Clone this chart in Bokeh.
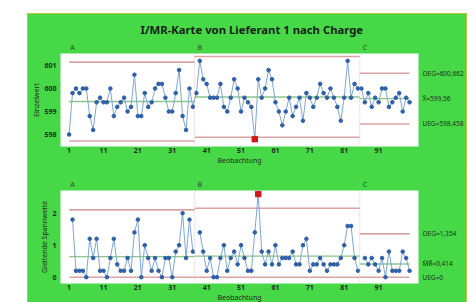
import numpy as np
from bokeh.plotting import figure
from bokeh.models import ColumnDataSource, Span, FixedTicker, Range1d, LinearAxis
from bokeh.layouts import column
from bokeh.embed import file_html
from bokeh.resources import INLINE

# ---------------- data ----------------
title_text = "I/MR-Karte von Lieferant 1 nach Charge"
stage_names = ["A", "B", "C"]
stage_last_obs = [37, 85, 100]

values_a = [598.0, 599.8, 600.0, 599.8, 600.0, 600.0, 598.8, 598.2, 599.4, 599.6,
            599.4, 599.4, 600.0, 598.8, 599.2, 599.4, 599.6, 599.0, 599.2, 600.6,
            598.8, 598.8, 599.8, 599.2, 599.4, 600.0, 600.2, 600.2, 599.6, 599.0,
            599.0, 599.8, 600.8, 598.8, 598.2, 600.0, 599.2]
values_b = [599.8, 601.2, 600.4, 600.2, 599.6, 599.6, 599.6, 600.2, 599.2, 599.0,
            599.6, 600.4, 600.0, 599.0, 599.6, 599.4, 599.2, 597.8, 600.4, 599.6,
            600.0, 600.8, 600.4, 599.4, 599.0, 598.4, 599.0, 599.6, 598.8, 599.2,
            599.6, 598.6, 599.8, 599.6, 599.2, 599.6, 600.2, 599.8, 599.6, 600.0,
            599.6, 599.2, 598.6, 599.6, 601.2, 599.6, 600.2, 600.0]
values_c = [600.0, 599.4, 599.8, 599.2, 599.6, 599.4, 600.0, 600.0, 599.2, 599.4,
            599.6, 599.8, 599.0, 599.6, 599.4]

i_flagged_obs = [55]
mr_flagged_obs = [56]

x_ticks = [1, 11, 21, 31, 41, 51, 61, 71, 81, 91]
i_ticks = [598, 599, 600, 601]
mr_ticks = [0, 1, 2]

i_right_labels = ["OEG=600,662", "X\u0304=599,56", "UEG=598,458"]
i_right_values = [600.662, 599.56, 598.458]
mr_right_labels = ["OEG=1,354", "M\u0304R\u0304=0,414", "UEG=0"]
mr_right_values = [1.354, 0.414, 0.0]

x_label = "Beobachtung"
i_axis_label = "Einzelwert"
mr_axis_label = "Gleitende Spannweite"

# ---------------- derived ----------------
stage_values = [values_a, values_b, values_c]
individual = np.array(values_a + values_b + values_c)
obs = np.arange(1, len(individual) + 1)

mr = np.full(len(individual), np.nan)
starts = []
s = 1
for vals, last in zip(stage_values, stage_last_obs):
    starts.append(s)
    for k in range(s, last):  # index k -> obs k+1
        mr[k] = abs(individual[k] - individual[k - 1])
    s = last + 1

stats = []
for st, last in zip(starts, stage_last_obs):
    seg = individual[st - 1:last]
    mrs = mr[st:last]
    mbar = seg.mean()
    rbar = np.nanmean(mrs)
    stats.append(dict(mean=mbar, ucl=mbar + 2.66 * rbar, lcl=mbar - 2.66 * rbar,
                      rbar=rbar, rucl=3.267 * rbar))

# ---------------- style ----------------
GREEN = "#46d846"
FONT = "Noto Sans"
TXT = "#1f2f1f"
LIM = "#dba4a4"
CEN = "#8cc48c"
PT = "#2f5fa8"
LN = "#7ea6dc"
RED = "#d01818"
XR = (-1.5, 102.6)
FW, FH = 358, 93


def seg_x(i):
    x0 = 1 if i == 0 else starts[i] - 0.5
    x1 = stage_last_obs[i] + 0.5 if i < len(starts) - 1 else stage_last_obs[i]
    return x0, x1


def style_axis(ax, size="7px", bold=True, color=TXT):
    ax.axis_line_color = None
    ax.major_tick_line_color = None
    ax.major_tick_in = 0
    ax.major_tick_out = 0
    ax.minor_tick_line_color = None
    ax.major_label_text_font = FONT
    ax.major_label_text_font_size = size
    ax.major_label_text_font_style = "bold" if bold else "normal"
    ax.major_label_text_color = color
    ax.axis_label_text_font = FONT
    ax.axis_label_text_font_size = "7px"
    ax.axis_label_text_font_style = "normal"
    ax.axis_label_text_color = TXT


def base_fig(yr, top, bottom, ticks, ylabel, right_labels, right_values, title=None):
    kw = {}
    if title is not None:
        kw["title"] = title
    p = figure(frame_width=FW, frame_height=FH, output_backend="svg",
               toolbar_location=None,
               x_range=Range1d(*XR), y_range=Range1d(*yr),
               min_border_left=32, min_border_right=48,
               min_border_top=top, min_border_bottom=bottom, **kw)
    p.border_fill_color = GREEN
    p.background_fill_color = "white"
    p.outline_line_color = None
    p.grid.visible = False
    style_axis(p.xaxis[0])
    style_axis(p.yaxis[0])
    p.xaxis.ticker = FixedTicker(ticks=x_ticks)
    p.xaxis.major_label_standoff = 1
    p.xaxis.axis_label = x_label
    p.xaxis.axis_label_standoff = 0
    p.yaxis.ticker = FixedTicker(ticks=ticks)
    p.yaxis.axis_label = ylabel
    p.yaxis.major_label_standoff = 4
    p.yaxis.axis_label_standoff = 0

    # stage names above the frame
    stage_pos = [st + 1.0 for st in starts]
    top_ax = LinearAxis(ticker=FixedTicker(ticks=stage_pos),
                        major_label_overrides={pos: n for pos, n in zip(stage_pos, stage_names)})
    style_axis(top_ax, bold=False, color="#2a4a2a")
    top_ax.major_label_standoff = 2
    p.add_layout(top_ax, "above")

    # limit values at the right of the frame
    r_ax = LinearAxis(ticker=FixedTicker(ticks=right_values),
                      major_label_overrides={v: t for v, t in zip(right_values, right_labels)})
    style_axis(r_ax, size="6.5px", bold=False)
    r_ax.major_label_standoff = 4
    p.add_layout(r_ax, "right")

    for b in (stage_last_obs[0] + 0.5, stage_last_obs[1] + 0.5):
        p.add_layout(Span(location=b, dimension="height", line_color="#e0b4b4",
                          line_dash="1 2", line_width=1))
    return p


# ---------------- I chart ----------------
YR1 = (597.48, 601.52)
p1 = base_fig(YR1, 39, 26, i_ticks, i_axis_label, i_right_labels, i_right_values,
              title=title_text)
p1.title.align = "left"
p1.title.offset = 80
p1.title.text_font = FONT
p1.title.text_font_size = "11.3px"
p1.title.text_font_style = "bold"
p1.title.text_color = "#141e14"
p1.title.standoff = 6
for i, st in enumerate(stats):
    x0, x1 = seg_x(i)
    p1.line([x0, x1], [st["ucl"], st["ucl"]], line_color=LIM, line_width=1.6)
    p1.line([x0, x1], [st["lcl"], st["lcl"]], line_color=LIM, line_width=1.6)
    p1.line([x0, x1], [st["mean"], st["mean"]], line_color=CEN, line_width=1.4)
src_i = ColumnDataSource(dict(x=obs, y=individual))
p1.line("x", "y", source=src_i, line_color=LN, line_width=1)
p1.scatter("x", "y", source=src_i, size=3.6, color=PT)
fi = np.array(i_flagged_obs)
p1.scatter(fi, individual[fi - 1], marker="square", size=5.5, color=RED)

# ---------------- MR chart ----------------
YR2 = (-0.197, 2.71)
p2 = base_fig(YR2, 18, 19, mr_ticks, mr_axis_label, mr_right_labels, mr_right_values)
for i, st in enumerate(stats):
    x0, x1 = seg_x(i)
    p2.line([x0, x1], [st["rucl"], st["rucl"]], line_color=LIM, line_width=1.6)
    p2.line([x0, x1], [0, 0], line_color=LIM, line_width=1.6)
    p2.line([x0, x1], [st["rbar"], st["rbar"]], line_color=CEN, line_width=1.4)
src_m = ColumnDataSource(dict(x=obs, y=mr))
p2.line("x", "y", source=src_m, line_color=LN, line_width=1)
p2.scatter("x", "y", source=src_m, size=3.6, color=PT)
fm = np.array(mr_flagged_obs)
p2.scatter(fm, mr[fm - 1], marker="square", size=5.5, color=RED)

layout = column(p1, p2, spacing=0, margin=(14, 0, 0, 28),
                styles={"background-color": GREEN,
                        "outline": "1px solid #c2c23a"})

open("out.html", "w").write(file_html(layout, INLINE))
